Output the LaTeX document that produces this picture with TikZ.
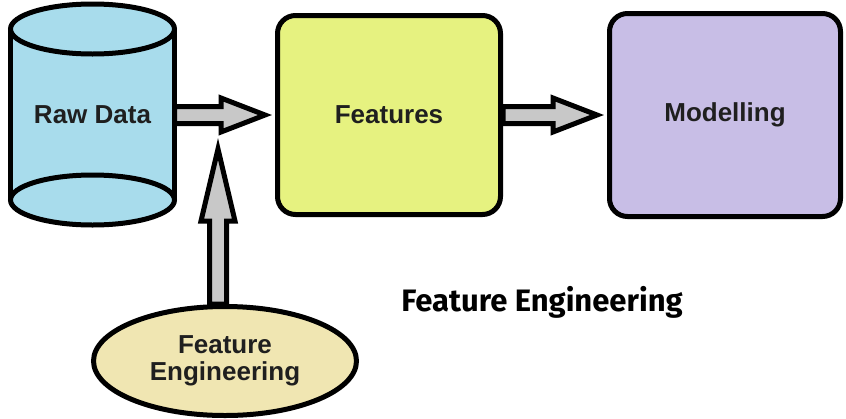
\documentclass[tikz,border=0pt]{standalone}
\usepackage{fontspec}
\setmainfont{Liberation Sans}
\newfontfamily\titlefont{Fira Sans}
\usetikzlibrary{calc,shapes.geometric}

\definecolor{rawblue}{RGB}{168,220,236}
\definecolor{featgreen}{RGB}{230,242,128}
\definecolor{modelviolet}{RGB}{200,190,230}
\definecolor{engsand}{RGB}{240,230,178}
\definecolor{pipegray}{RGB}{200,200,200}

% fat arrow from #2 towards #3, head length #1
\newcommand{\blockarrow}[3][44pt]{%
  \coordinate (tip) at ($(#3)!10pt!(#2)$);
  \coordinate (neck) at ($(tip)!#1!(#2)$);
  \draw[pipe] ($(#2)!8.5pt!90:(tip)$) -- ($(neck)!8.5pt!90:(tip)$)
    -- ($(neck)!17pt!90:(tip)$) -- (tip) -- ($(neck)!17pt!-90:(tip)$)
    -- ($(neck)!8.5pt!-90:(tip)$) -- ($(#2)!8.5pt!-90:(tip)$) -- cycle;
}

\begin{document}
\begin{tikzpicture}[x=1pt,y=-1pt,
    every node/.style={font=\fontsize{26}{27}\selectfont\bfseries,text=black!88},
    cyl/.style={draw,line width=5pt,fill=rawblue},
    stage/.style={draw,line width=5pt,rectangle,rounded corners=18pt},
    pipe/.style={draw,line width=5pt,fill=pipegray,line join=miter}]

  \useasboundingbox (0,0) rectangle (846,418);

  % raw data store
  \fill[rawblue] (10.5,29) rectangle (174.5,200);
  \draw[line width=5pt] (10.5,29) -- (10.5,200) (174.5,29) -- (174.5,200);
  \draw[cyl] (92.5,200) ellipse[x radius=82, y radius=25];
  \draw[cyl] (92.5,29) ellipse[x radius=82, y radius=25];
  \node[minimum width=164pt,minimum height=171pt,inner sep=0pt,outer sep=0pt]
    (raw) at (92.5,115) {Raw Data};

  \node[stage,fill=featgreen,minimum width=223pt,minimum height=199pt]
    (feat) at (389,115) {Features};
  \node[stage,fill=modelviolet,minimum width=231pt,minimum height=203pt]
    (model) at (725,115) {Modelling};

  \node[ellipse,draw,line width=5pt,fill=engsand,inner sep=0pt,
    minimum width=263pt,minimum height=109pt,align=center]
    (fe) at (225,361) {Feature\\Engineering};

  \node[font={\titlefont\fontsize{31}{34}\selectfont\bfseries},text=black]
    (caption) at (542,302) {Feature Engineering};

  % arrows
  \blockarrow{raw.east}{feat.west}
  \blockarrow{feat.east}{model.west}
  \coordinate (merge) at (218,139);
  \coordinate (stem) at (merge |- fe.north);
  \blockarrow[72pt]{stem}{merge}

\end{tikzpicture}
\end{document}
